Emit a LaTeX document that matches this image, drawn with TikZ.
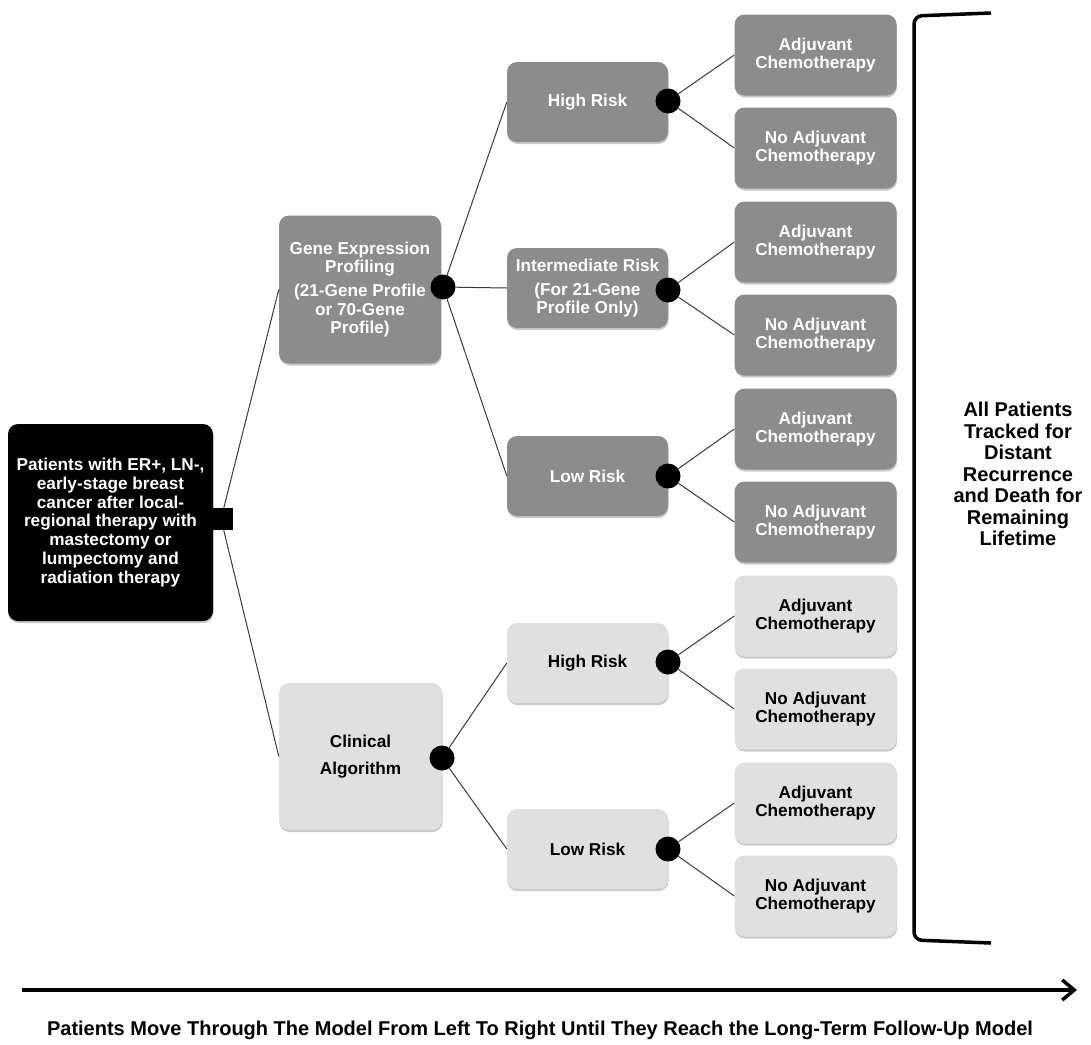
\documentclass[tikz,border=0pt]{standalone}
\usepackage{fontspec}
\setmainfont{Liberation Sans}
\usetikzlibrary{shadows,arrows.meta}
\definecolor{dgray}{HTML}{8C8C8C}
\definecolor{lgray}{HTML}{E0E0E0}
\definecolor{linkc}{HTML}{3A3A3A}
\begin{document}
\begin{tikzpicture}[x=1pt,y=-1pt,
 box/.style={rounded corners=10pt, inner sep=0pt, align=center,
   font=\fontsize{17.2}{17.5}\selectfont\bfseries,
   drop shadow={shadow xshift=0.5pt,shadow yshift=-2pt,opacity=0.35,fill=black!60}},
 dbox/.style={box, fill=dgray, text=white},
 lbox/.style={box, fill=lgray, text=black},
 leaf/.style={minimum width=162pt, minimum height=81pt},
 risk/.style={minimum width=161pt, minimum height=80pt},
 dot/.style={circle, fill=black, inner sep=0pt, minimum size=25pt},
 link/.style={draw=linkc, line width=1pt}]
\useasboundingbox (0,0) rectangle (1091,1044);

% root
\node[dbox, fill=black, minimum width=205pt, minimum height=197pt,
  font=\fontsize{17.2}{18.7}\selectfont\bfseries] (root) at (110.5,522.5)
  {Patients with ER+, LN-,\\early-stage breast\\cancer after local-\\regional therapy with\\mastectomy or\\lumpectomy and\\radiation therapy};
\node[fill=black, minimum width=23pt, minimum height=22pt, inner sep=0pt] (sq) at (221,519) {};

% strategies
\node[dbox, minimum width=162pt, minimum height=148pt,
  font=\fontsize{17.2}{18.5}\selectfont\bfseries] (gene) at (360,289.5)
  {Gene Expression\\Profiling\\[5.5pt](21-Gene Profile\\or 70-Gene\\Profile)};
\node[lbox, minimum width=163pt, minimum height=147pt,
  font=\fontsize{17.2}{18}\selectfont\bfseries] (clin) at (360.5,756.5)
  {Clinical\\[9pt]Algorithm};
\node[dot] (gc) at (443,287) {};
\node[dot] (cc) at (442,758) {};

% risk groups
\node[dbox, risk] (hr1) at (587.5,102) {High Risk};
\node[dbox, risk] (ir)  at (587.5,288) {Intermediate Risk\\[7pt](For 21-Gene\\Profile Only)};
\node[dbox, risk] (lr1) at (587.5,476) {Low Risk};
\node[lbox, risk] (hr2) at (587.5,663) {High Risk};
\node[lbox, risk] (lr2) at (587.5,849) {Low Risk};
\node[dot] (d1) at (668,101) {};
\node[dot] (d2) at (668,290) {};
\node[dot] (d3) at (668,476) {};
\node[dot] (d4) at (668,662) {};
\node[dot] (d5) at (668,849) {};

% treatments
\node[dbox, leaf] (l1)  at (815.5,55)  {Adjuvant\\Chemotherapy};
\node[dbox, leaf] (l2)  at (815.5,148) {No Adjuvant\\Chemotherapy};
\node[dbox, leaf] (l3)  at (815.5,242) {Adjuvant\\Chemotherapy};
\node[dbox, leaf] (l4)  at (815.5,335) {No Adjuvant\\Chemotherapy};
\node[dbox, leaf] (l5)  at (815.5,429) {Adjuvant\\Chemotherapy};
\node[dbox, leaf] (l6)  at (815.5,522) {No Adjuvant\\Chemotherapy};
\node[lbox, leaf] (l7)  at (815.5,616) {Adjuvant\\Chemotherapy};
\node[lbox, leaf] (l8)  at (815.5,709) {No Adjuvant\\Chemotherapy};
\node[lbox, leaf] (l9)  at (815.5,803) {Adjuvant\\Chemotherapy};
\node[lbox, leaf] (l10) at (815.5,896) {No Adjuvant\\Chemotherapy};

% connectors
\draw[link] (sq) -- (gene.west);
\draw[link] (sq) -- (clin.west);
\draw[link] (gc) -- (hr1.west);
\draw[link] (gc) -- (ir.west);
\draw[link] (gc) -- (lr1.west);
\draw[link] (cc) -- (hr2.west);
\draw[link] (cc) -- (lr2.west);
\draw[link] (d1) -- (l1.west);  \draw[link] (d1) -- (l2.west);
\draw[link] (d2) -- (l3.west);  \draw[link] (d2) -- (l4.west);
\draw[link] (d3) -- (l5.west);  \draw[link] (d3) -- (l6.west);
\draw[link] (d4) -- (l7.west);  \draw[link] (d4) -- (l8.west);
\draw[link] (d5) -- (l9.west);  \draw[link] (d5) -- (l10.west);

% bracket and note
\draw[line width=3.5pt, rounded corners=8pt] (991,13) -- (914,16) -- (914,940) -- (991,943);
\node[font=\fontsize{20}{21.5}\selectfont\bfseries, align=center] (note) at (1018,474)
  {All Patients\\Tracked for\\Distant\\Recurrence\\and Death for\\Remaining\\Lifetime};

% time arrow
\coordinate (as) at (22,990);
\coordinate (ae) at (1077,990);
\draw[line width=3.5pt, -{Straight Barb[length=12pt,width=20pt]}] (as) -- (ae);
\node[font=\fontsize{20}{22}\selectfont\bfseries] (cap) at (540,1030)
  {Patients Move Through The Model From Left To Right Until They Reach the Long-Term Follow-Up Model};
\end{tikzpicture}
\end{document}
